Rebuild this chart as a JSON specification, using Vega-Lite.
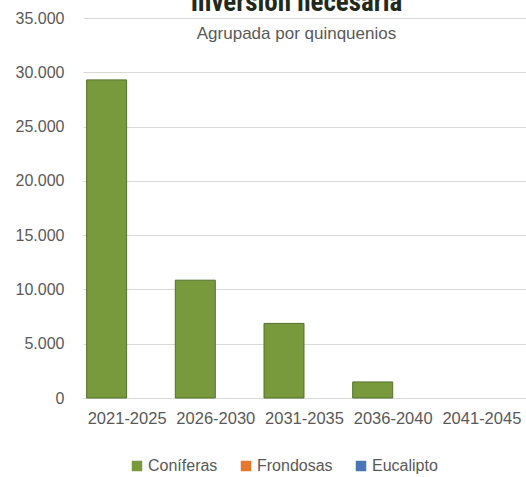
{
  "$schema": "https://vega.github.io/schema/vega-lite/v6.json",
  "width": 443,
  "height": 380,
  "autosize": {"type": "none"},
  "padding": {"left": 83, "top": 18, "right": 0, "bottom": 79},
  "background": "white",
  "title": {
    "text": "Inversión necesaria",
    "subtitle": "Agrupada por quinquenios",
    "anchor": "middle",
    "frame": "group",
    "font": "Liberation Sans Narrow, Roboto Condensed, Liberation Sans",
    "fontSize": 27,
    "fontWeight": "bold",
    "color": "#1f2a1a",
    "subtitleFont": "Liberation Sans",
    "subtitleFontSize": 17,
    "subtitleColor": "#595959",
    "subtitlePadding": 9,
    "offset": -33,
    "dx": -8
  },
  "config": {
    "locale": {"number": {"decimal": ",", "thousands": ".", "grouping": [3], "currency": ["", " €"]}},
    "view": {"stroke": null},
    "font": "Liberation Sans"
  },
  "data": {
    "values": [
      {"periodo": "2021-2025", "especie": "Coníferas", "valor": 29300},
      {"periodo": "2026-2030", "especie": "Coníferas", "valor": 10850},
      {"periodo": "2031-2035", "especie": "Coníferas", "valor": 6870},
      {"periodo": "2036-2040", "especie": "Coníferas", "valor": 1480},
      {"periodo": "2041-2045", "especie": "Coníferas", "valor": 0},
      {"periodo": "2021-2025", "especie": "Frondosas", "valor": 0},
      {"periodo": "2026-2030", "especie": "Frondosas", "valor": 0},
      {"periodo": "2031-2035", "especie": "Frondosas", "valor": 0},
      {"periodo": "2036-2040", "especie": "Frondosas", "valor": 0},
      {"periodo": "2041-2045", "especie": "Frondosas", "valor": 0},
      {"periodo": "2021-2025", "especie": "Eucalipto", "valor": 0},
      {"periodo": "2026-2030", "especie": "Eucalipto", "valor": 0},
      {"periodo": "2031-2035", "especie": "Eucalipto", "valor": 0},
      {"periodo": "2036-2040", "especie": "Eucalipto", "valor": 0},
      {"periodo": "2041-2045", "especie": "Eucalipto", "valor": 0}
    ]
  },
  "mark": {"type": "bar", "xOffset": -20.5, "stroke": "#55702a", "strokeWidth": 1},
  "encoding": {
    "x": {
      "field": "periodo",
      "type": "nominal",
      "sort": null,
      "scale": {"paddingInner": 0.549, "paddingOuter": 0.272},
      "axis": {
        "title": null,
        "labelAngle": 0,
        "ticks": false,
        "domainColor": "#D9D9D9",
        "domainWidth": 1,
        "labelPadding": 12,
        "labelFontSize": 16.5,
        "labelColor": "#595959"
      }
    },
    "y": {
      "field": "valor",
      "type": "quantitative",
      "stack": null,
      "scale": {"domain": [0, 35000]},
      "axis": {
        "title": null,
        "values": [0, 5000, 10000, 15000, 20000, 25000, 30000, 35000],
        "format": ",d",
        "domain": false,
        "ticks": false,
        "gridColor": "#D9D9D9",
        "gridWidth": 1,
        "labelPadding": 19,
        "labelFontSize": 16,
        "labelColor": "#595959"
      }
    },
    "color": {
      "field": "especie",
      "type": "nominal",
      "scale": {"domain": ["Coníferas", "Frondosas", "Eucalipto"], "range": ["#789a3d", "#E8772E", "#4A76B5"]},
      "legend": {
        "title": null,
        "orient": "none",
        "legendX": 46,
        "legendY": 440,
        "direction": "horizontal",
        "symbolType": "square",
        "symbolSize": 110,
        "symbolStrokeWidth": 0,
        "labelFontSize": 16,
        "labelColor": "#595959",
        "labelOffset": 3,
        "columnPadding": 20
      }
    },
    "strokeOpacity": {"condition": {"test": "datum.valor > 0", "value": 1}, "value": 0}
  }
}
